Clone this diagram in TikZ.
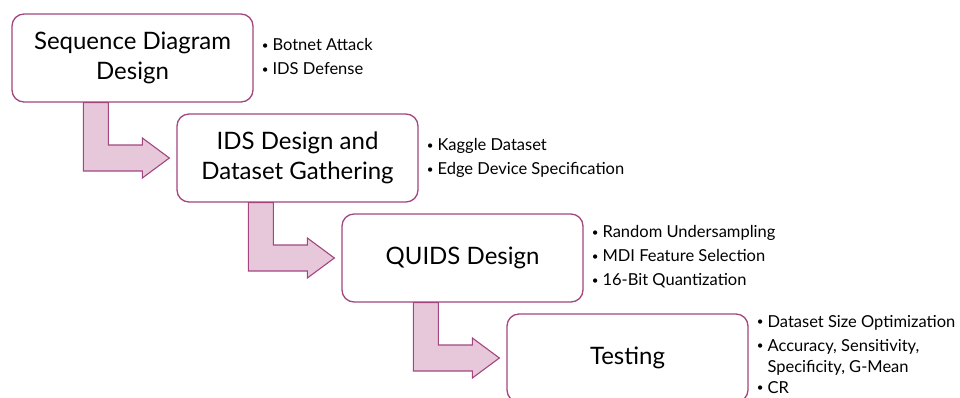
\documentclass[tikz,border=0pt]{standalone}
\usepackage{fontspec}
\setmainfont{Lato}
\usetikzlibrary{positioning,calc}
\definecolor{flowmagenta}{HTML}{A3467F}
\definecolor{flowpink}{HTML}{E6C8DA}
\newcommand{\notedot}{\raisebox{1.3pt}{\scalebox{0.7}{•}}\hspace{4pt}}

\begin{document}
\begin{tikzpicture}[x=1pt, y=-1pt,
  stagebox/.style={draw=flowmagenta, line width=1.3pt, fill=white,
    rounded corners=12pt, minimum width=241pt, minimum height=88pt,
    align=center, font=\fontsize{24}{30}\selectfont, inner sep=0pt},
  notelist/.style={anchor=north west, align=left, inner sep=0pt,
    font=\fontsize{16.5}{24}\selectfont},
  bentarrow/.style={draw=flowmagenta, fill=flowpink, line width=1.1pt, line join=miter}]

  % ---- Page frame ----
  \useasboundingbox (0,0) rectangle (960,397);

  % ---- Stages ----
  \node[stagebox] (seq) at (132.5,58) {Sequence Diagram\\Design};
  \node[stagebox] (ids) at (297.5,158) {IDS Design and\\Dataset Gathering};
  \node[stagebox] (quids) at (462.5,258) {QUIDS Design};
  \node[stagebox] (test) at (627.5,358) {Testing};

  % ---- Notes beside each stage ----
  \node[notelist] (seqnotes) at ($(seq.north east)+(8,25)$)
    {\notedot Botnet Attack\\\notedot IDS Defense};
  \node[notelist] (idsnotes) at ($(ids.north east)+(8,25)$)
    {\notedot Kaggle Dataset\\\notedot Edge Device Specification};
  \node[notelist] (quidsnotes) at ($(quids.north east)+(8,12)$)
    {\notedot Random Undersampling\\\notedot MDI Feature Selection\\\notedot 16-Bit Quantization};
  \node[notelist] (testnotes) at ($(test.north east)+(8,1.5)$)
    {\notedot Dataset Size Optimization\\
     \notedot Accuracy, Sensitivity,\\[-3pt]
     \phantom{\notedot}Specificity, G-Mean\\[-3pt]
     \notedot CR};

  % ---- Bent arrows between stages ----
  \foreach \from/\to in {seq/ids, quids/test, ids/quids}
    \draw[bentarrow] let \p1=(\from.south west), \p2=(\to.west) in
      (\x1+72pt,\y1) -- (\x1+97pt,\y1) -- (\x1+97pt,\y2+13pt)
      -- (\x2-34pt,\y2+13pt) -- (\x2-34pt,\y2+20pt) -- (\x2-7pt,\y2)
      -- (\x2-34pt,\y2-20pt) -- (\x2-34pt,\y2-13pt) -- (\x1+72pt,\y2-13pt) -- cycle;

\end{tikzpicture}
\end{document}
